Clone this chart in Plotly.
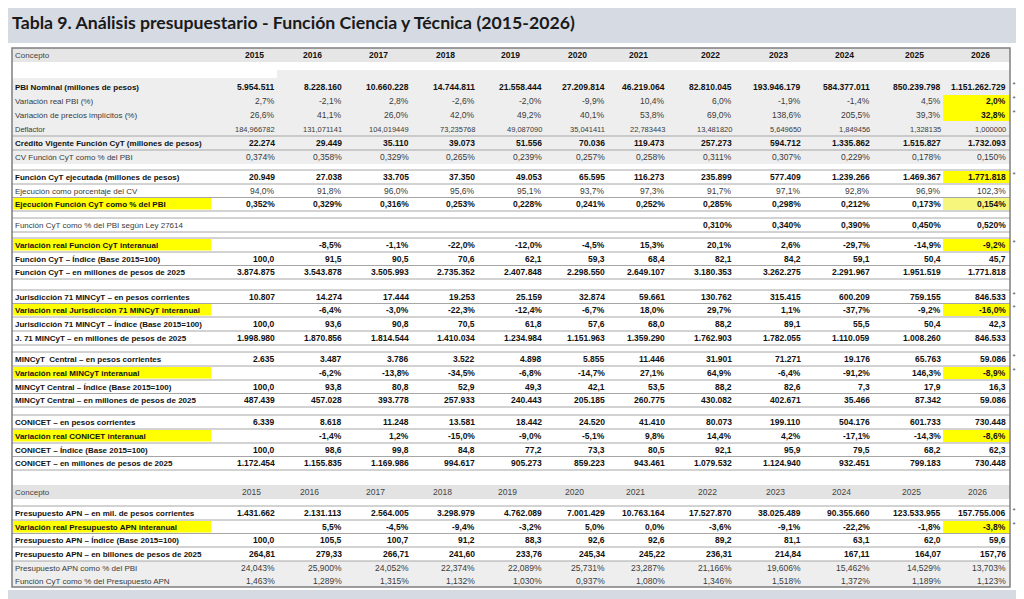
import plotly.graph_objects as go

# --- datos ---
years = ["2015", "2016", "2017", "2018", "2019", "2020", "2021", "2022", "2023", "2024", "2025", "2026"]

pbi_nominal = ["5.954.511", "8.228.160", "10.660.228", "14.744.811", "21.558.444", "27.209.814", "46.219.064", "82.810.045", "193.946.179", "584.377.011", "850.239.798", "1.151.262.729"]
var_real_pbi = ["2,7%", "-2,1%", "2,8%", "-2,6%", "-2,0%", "-9,9%", "10,4%", "6,0%", "-1,9%", "-1,4%", "4,5%", "2,0%"]
var_precios = ["26,6%", "41,1%", "26,0%", "42,0%", "49,2%", "40,1%", "53,8%", "69,0%", "138,6%", "205,5%", "39,3%", "32,8%"]
deflactor = ["184,966782", "131,071141", "104,019449", "73,235768", "49,087090", "35,041411", "22,783443", "13,481820", "5,649650", "1,849456", "1,328135", "1,000000"]
credito_cv = ["22.274", "29.449", "35.110", "39.073", "51.556", "70.036", "119.473", "257.273", "594.712", "1.335.862", "1.515.827", "1.732.093"]
cv_pbi = ["0,374%", "0,358%", "0,329%", "0,265%", "0,239%", "0,257%", "0,258%", "0,311%", "0,307%", "0,229%", "0,178%", "0,150%"]
fn_ejecutada = ["20.949", "27.038", "33.705", "37.350", "49.053", "65.595", "116.273", "235.899", "577.409", "1.239.266", "1.469.367", "1.771.818"]
ejec_cv = ["94,0%", "91,8%", "96,0%", "95,6%", "95,1%", "93,7%", "97,3%", "91,7%", "97,1%", "92,8%", "96,9%", "102,3%"]
ejec_pbi = ["0,352%", "0,329%", "0,316%", "0,253%", "0,228%", "0,241%", "0,252%", "0,285%", "0,298%", "0,212%", "0,173%", "0,154%"]
ley_27614 = ["", "", "", "", "", "", "", "0,310%", "0,340%", "0,390%", "0,450%", "0,520%"]
var_fn = ["", "-8,5%", "-1,1%", "-22,0%", "-12,0%", "-4,5%", "15,3%", "20,1%", "2,6%", "-29,7%", "-14,9%", "-9,2%"]
fn_indice = ["100,0", "91,5", "90,5", "70,6", "62,1", "59,3", "68,4", "82,1", "84,2", "59,1", "50,4", "45,7"]
fn_2025 = ["3.874.875", "3.543.878", "3.505.993", "2.735.352", "2.407.848", "2.298.550", "2.649.107", "3.180.353", "3.262.275", "2.291.967", "1.951.519", "1.771.818"]
jur_corr = ["10.807", "14.274", "17.444", "19.253", "25.159", "32.874", "59.661", "130.762", "315.415", "600.209", "759.155", "846.533"]
var_jur = ["", "-6,4%", "-3,0%", "-22,3%", "-12,4%", "-6,7%", "18,0%", "29,7%", "1,1%", "-37,7%", "-9,2%", "-16,0%"]
jur_indice = ["100,0", "93,6", "90,8", "70,5", "61,8", "57,6", "68,0", "88,2", "89,1", "55,5", "50,4", "42,3"]
jur_2025 = ["1.998.980", "1.870.856", "1.814.544", "1.410.034", "1.234.984", "1.151.963", "1.359.290", "1.762.903", "1.782.055", "1.110.059", "1.008.260", "846.533"]
min_corr = ["2.635", "3.487", "3.786", "3.522", "4.898", "5.855", "11.446", "31.901", "71.271", "19.176", "65.763", "59.086"]
var_min = ["", "-6,2%", "-13,8%", "-34,5%", "-6,8%", "-14,7%", "27,1%", "64,9%", "-6,4%", "-91,2%", "146,3%", "-8,9%"]
min_indice = ["100,0", "93,8", "80,8", "52,9", "49,3", "42,1", "53,5", "88,2", "82,6", "7,3", "17,9", "16,3"]
min_2025 = ["487.439", "457.028", "393.778", "257.933", "240.443", "205.185", "260.775", "430.082", "402.671", "35.466", "87.342", "59.086"]
con_corr = ["6.339", "8.618", "11.248", "13.581", "18.442", "24.520", "41.410", "80.073", "199.110", "504.176", "601.733", "730.448"]
var_con = ["", "-1,4%", "1,2%", "-15,0%", "-9,0%", "-5,1%", "9,8%", "14,4%", "4,2%", "-17,1%", "-14,3%", "-8,6%"]
con_indice = ["100,0", "98,6", "99,8", "84,8", "77,2", "73,3", "80,5", "92,1", "95,9", "79,5", "68,2", "62,3"]
con_2025 = ["1.172.454", "1.155.835", "1.169.986", "994.617", "905.273", "859.223", "943.461", "1.079.532", "1.124.940", "932.451", "799.183", "730.448"]
apn_corr = ["1.431.662", "2.131.113", "2.564.005", "3.298.979", "4.762.089", "7.001.429", "10.763.164", "17.527.870", "38.025.489", "90.355.660", "123.533.955", "157.755.006"]
var_apn = ["", "5,5%", "-4,5%", "-9,4%", "-3,2%", "5,0%", "0,0%", "-3,6%", "-9,1%", "-22,2%", "-1,8%", "-3,8%"]
apn_indice = ["100,0", "105,5", "100,7", "91,2", "88,3", "92,6", "92,6", "89,2", "81,1", "63,1", "62,0", "59,6"]
apn_2025 = ["264,81", "279,33", "266,71", "241,60", "233,76", "245,34", "245,22", "236,31", "214,84", "167,11", "164,07", "157,76"]
apn_pbi = ["24,043%", "25,900%", "24,052%", "22,374%", "22,089%", "25,731%", "23,287%", "21,166%", "19,606%", "15,462%", "14,529%", "13,703%"]
fn_apn = ["1,463%", "1,289%", "1,315%", "1,132%", "1,030%", "0,937%", "1,080%", "1,346%", "1,518%", "1,372%", "1,189%", "1,123%"]

# filas: (etiqueta, valores, estilo)
# estilo: b=negrita, n=normal, s=chico ; Y=etiqueta amarilla ; *=asterisco ; B=valores en negrita
filas = [
    ("PBI Nominal (millones de pesos)", pbi_nominal, "b*"),
    ("Variación real PBI (%)", var_real_pbi, "n*"),
    ("Variación de precios implícitos (%)", var_precios, "n*"),
    ("Deflactor", deflactor, "s"),
    ("Crédito Vigente Función CyT (millones de pesos)", credito_cv, "b"),
    ("CV Función CyT como % del PBI", cv_pbi, "n"),
    ("Función CyT ejecutada (millones de pesos)", fn_ejecutada, "b*"),
    ("Ejecución como porcentaje del CV", ejec_cv, "n"),
    ("Ejecución Función CyT como % del PBI", ejec_pbi, "bY"),
    ("Función CyT como % del PBI según Ley 27614", ley_27614, "nB"),
    ("Variación real Función CyT interanual", var_fn, "bY*"),
    ("Función CyT – Índice (Base 2015=100)", fn_indice, "b"),
    ("Función CyT – en millones de pesos de 2025", fn_2025, "b"),
    ("Jurisdicción 71 MINCyT – en pesos corrientes", jur_corr, "b*"),
    ("Variación real Jurisdicción 71 MINCyT interanual", var_jur, "bY*"),
    ("Jurisdicción 71 MINCyT – Índice (Base 2015=100)", jur_indice, "b"),
    ("J. 71 MINCyT – en millones de pesos de 2025", jur_2025, "b"),
    ("MINCyT  Central – en pesos corrientes", min_corr, "b*"),
    ("Variación real MINCyT interanual", var_min, "bY*"),
    ("MINCyT Central – Índice (Base 2015=100)", min_indice, "b"),
    ("MINCyT Central – en millones de pesos de 2025", min_2025, "b"),
    ("CONICET – en pesos corrientes", con_corr, "b"),
    ("Variación real CONICET interanual", var_con, "bY"),
    ("CONICET – Índice (Base 2015=100)", con_indice, "b"),
    ("CONICET – en millones de pesos de 2025", con_2025, "b"),
    ("Presupuesto APN – en mil. de pesos corrientes", apn_corr, "b*"),
    ("Variación real Presupuesto APN interanual", var_apn, "bY*"),
    ("Presupuesto APN – Índice (Base 2015=100)", apn_indice, "b"),
    ("Presupuesto APN – en billones de pesos de 2025", apn_2025, "b"),
    ("Presupuesto APN como % del PBI", apn_pbi, "n"),
    ("Función CyT como % del Presupuesto APN", fn_apn, "n"),
]

# --- geometría (px de la imagen) ---
fila_y = [87, 101, 115, 129, 143, 157, 177, 191, 204, 225, 245, 259, 272,
          297, 310, 324, 338, 359, 373, 387, 400, 422, 436, 450, 463,
          513, 527, 540, 554, 568, 581]
col_der = [276, 343, 410, 476, 543, 606, 666, 733, 802, 871, 942, 1007]
enc_izq = [244, 302, 368, 435, 500, 567, 628, 700, 768, 834, 904, 970]
X0, X1 = 12, 1010
Y0, Y1 = 48, 587
enc1_y, enc2_y = 55, 492
MARGEN = 8  # margen del body del navegador

# celdas 2026 resaltadas (indice de fila, color)
amarillo = "#ffff00"
celdas_26 = [(6, amarillo), (8, "#f6f67c"), (10, amarillo), (14, amarillo),
             (18, amarillo), (22, amarillo), (26, amarillo)]
filas_26_negrita = [1, 2, 6, 10, 14, 18, 22, 26]

lineas = [136, 150, 170, 184, 197.5, 211, 218, 232, 238, 252, 265.5, 279,
          290, 303.5, 317, 331, 345, 352, 366, 380, 393.5, 407,
          415, 429, 443, 456.5, 470, 506, 520, 533.5, 547, 561]

FONT = "Liberation Sans, Arial, sans-serif"
FS = 8.5
FS_LAB = 8

fig = go.Figure()
fig.add_trace(go.Scatter(x=[MARGEN, 1024], y=[MARGEN, 599], mode="markers",
                         marker=dict(opacity=0), hoverinfo="skip", showlegend=False))

shapes = []
def rect(x0, y0, x1, y1, color, line=None):
    shapes.append(dict(type="rect", xref="x", yref="y", x0=x0, y0=y0, x1=x1, y1=y1,
                       fillcolor=color, line=line or dict(width=0), layer="below"))

def hline(y, color="#a6a6a6", w=1):
    shapes.append(dict(type="line", xref="x", yref="y", x0=X0, x1=X1, y0=y, y1=y,
                       line=dict(color=color, width=w), layer="above"))

# bandas de fondo de la página
rect(0, 0, 1024, 43, "#d6dae3")
rect(0, 590, 1018, 599, "#d6dae3")
# encabezados y bloques grises
rect(X0, Y0, X1, 62, "#e6e6e6")
rect(277, 70, X1, 78, "#eeeeee")
rect(X0, 78, X1, 164, "#eeeeee")
rect(X0, 485, X1, 499, "#e3e3e3")
rect(X0, 561, X1, Y1, "#eeeeee")

# resaltados amarillos
for i, (lab, vals, est) in enumerate(filas):
    if "Y" in est:
        rect(X0 + 1, fila_y[i] - 6, 211, fila_y[i] + 5.5, amarillo)
rect(943, fila_y[1] - 6, 1009, fila_y[2] + 6, amarillo)
for i, c in celdas_26:
    rect(943, fila_y[i] - 6, 1009, fila_y[i] + 6, c)

for y in lineas:
    hline(y)

# borde de la tabla
shapes.append(dict(type="rect", xref="x", yref="y", x0=X0, y0=Y0, x1=X1, y1=Y1,
                   line=dict(color="#7f7f7f", width=1.5), fillcolor="rgba(0,0,0,0)", layer="above"))

anns = []
def txt(x, y, s, anchor="right", size=FS, bold=False, color="#111111"):
    anns.append(dict(xref="x", yref="y", x=x, y=y, text=s, showarrow=False,
                     xanchor=anchor, yanchor="middle", borderpad=0,
                     font=dict(family=FONT, size=size, color=color,
                               weight="bold" if bold else "normal")))

# encabezados
txt(14, enc1_y, "Concepto", "left", size=FS_LAB, color="#444444")
txt(14, enc2_y, "Concepto", "left", size=FS_LAB, color="#444444")
for j, yr in enumerate(years):
    txt(enc_izq[j], enc1_y, yr, "left", bold=True)
    txt(enc_izq[j] - 3, enc2_y, yr, "left", color="#444444")

# filas
estrellas_y = []
for i, (lab, vals, est) in enumerate(filas):
    y = fila_y[i]
    negrita = "b" in est
    col = "#111111" if negrita else "#3a3a3a"
    size = 7.5 if "s" in est else FS
    txt(14, y, lab, "left", size=FS_LAB if "s" not in est else 7.5, bold=negrita, color=col)
    for j, v in enumerate(vals):
        if not v:
            continue
        neg_v = negrita or "B" in est or (j == len(vals) - 1 and i in filas_26_negrita)
        txt(col_der[j], y, v, "right", size=size, bold=neg_v,
            color="#111111" if neg_v else col)
    if "*" in est:
        estrellas_y.append(y - 2)

# asteriscos a la derecha de la tabla
fig.add_trace(go.Scatter(x=[1014] * len(estrellas_y), y=estrellas_y, mode="text",
                         text=["*"] * len(estrellas_y), textposition="middle center",
                         textfont=dict(family=FONT, size=8, color="#555555"),
                         hoverinfo="skip", showlegend=False, cliponaxis=False))

# título
anns.append(dict(xref="x", yref="y", x=10, y=22, showarrow=False, xanchor="left", yanchor="middle",
                 text="Tabla 9. Análisis presupuestario - Función Ciencia y Técnica (2015-2026)",
                 font=dict(family="Lato, sans-serif", size=17.7, color="#1a1a1a", weight="bold")))

# la figura empieza en (8, 8) de la página: se recorta el rango para que cada px coincida
fig.update_layout(
    width=1024 - MARGEN, height=599 - MARGEN,
    margin=dict(l=0, r=0, t=0, b=0),
    paper_bgcolor="white", plot_bgcolor="white",
    xaxis=dict(range=[MARGEN, 1024], visible=False, fixedrange=True),
    yaxis=dict(range=[599, MARGEN], visible=False, fixedrange=True),
    shapes=shapes, annotations=anns, showlegend=False,
)

fig.write_html("out.html")
